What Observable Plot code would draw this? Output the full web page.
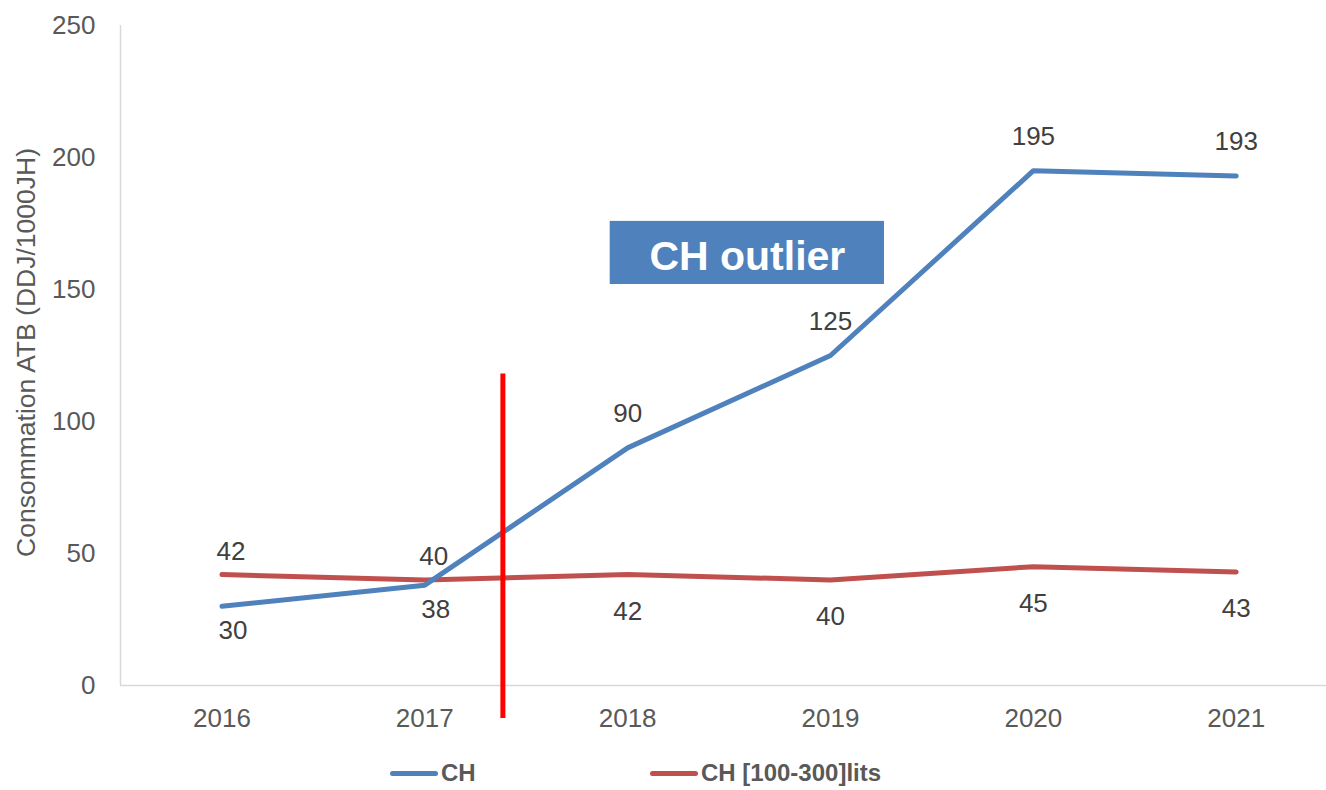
<!DOCTYPE html>
<html>
<head>
<meta charset="utf-8">
<script src="https://cdn.jsdelivr.net/npm/d3@7"></script>
<script src="https://cdn.jsdelivr.net/npm/@observablehq/plot@0.6"></script>
<style>
  html, body { margin: 0; padding: 0; background: #fff; }
  body { width: 1326px; height: 790px; overflow: hidden; font-family: "Liberation Sans", Arial, sans-serif; }
  #legend { position: relative; width: 1326px; height: 45px; }
  .item { position: absolute; top: 14px; display: flex; align-items: center; font-weight: bold; font-size: 24px; color: #595959; }
  .swatch { width: 48px; height: 5px; border-radius: 3px; margin-right: 3px; }
</style>
</head>
<body>
<div id="chart"></div>
<div id="legend"></div>
<script>
const years = [2016, 2017, 2018, 2019, 2020, 2021];
const chValues = [30, 38, 90, 125, 195, 193];
const chSubValues = [42, 40, 42, 40, 45, 43];
const seriesNames = ["CH", "CH [100-300]lits"];
const seriesColors = ["#4f81bd", "#c0504d"];
const yTicks = [0, 50, 100, 150, 200, 250];
const yLabel = "Consommation ATB (DDJ/1000JH)";
const cutoffYear = [2017.385];
const cutoffRange = [-12.5, 118];
const outlierText = "CH outlier";
const outlierBox = {x1: 2017.914, x2: 2019.266, y1: 151.9, y2: 175.8};
const chLabelBelow = new Set([2016, 2017]);
const subLabelAbove = new Set([2016, 2017]);

const ch = years.map((y, i) => ({year: y, value: chValues[i]}));
const sub = years.map((y, i) => ({year: y, value: chSubValues[i]}));

const font = "Liberation Sans, Arial, sans-serif";
const lbl = {x: "year", y: "value", text: d => String(d.value), fontSize: 26, fill: "#404040"};

const chart = Plot.plot({
  width: 1326,
  height: 745,
  marginLeft: 120,
  marginRight: 0,
  marginTop: 25,
  marginBottom: 60,
  style: {fontFamily: font, background: "#fff"},
  x: {domain: [2015.5, 2021.445], axis: null},
  y: {domain: [0, 250], axis: null},
  marks: [
    Plot.ruleX([2015.5], {y1: 0, y2: 250, stroke: "#d9d9d9", strokeWidth: 1.5}),
    Plot.ruleY([0], {stroke: "#d9d9d9", strokeWidth: 1.5}),
    Plot.text(yTicks, {x: 2015.5, y: d => d, text: d => String(d), textAnchor: "end", dx: -25, fontSize: 26, fill: "#595959"}),
    Plot.text(years, {x: d => d, y: 0, text: d => String(d), dy: 33, fontSize: 26, fill: "#595959"}),
    Plot.text([yLabel], {frameAnchor: "left", textAnchor: "middle", text: d => d, rotate: -90, dx: -94, dy: -3, fontSize: 26.5, fill: "#595959"}),
    Plot.line(sub, {x: "year", y: "value", stroke: seriesColors[1], strokeWidth: 5, strokeLinecap: "round"}),
    Plot.line(ch, {x: "year", y: "value", stroke: seriesColors[0], strokeWidth: 5, strokeLinecap: "round"}),
    Plot.ruleX(cutoffYear, {y1: cutoffRange[0], y2: cutoffRange[1], stroke: "#ff0000", strokeWidth: 5}),
    Plot.text(ch.filter(d => chLabelBelow.has(d.year)), {...lbl, dy: 24, dx: 11}),
    Plot.text(ch.filter(d => !chLabelBelow.has(d.year)), {...lbl, dy: -34}),
    Plot.text(sub.filter(d => subLabelAbove.has(d.year)), {...lbl, dy: -23, dx: 9}),
    Plot.text(sub.filter(d => !subLabelAbove.has(d.year)), {...lbl, dy: 37}),
    Plot.rect([outlierBox], {x1: "x1", x2: "x2", y1: "y1", y2: "y2", fill: "#4f81bd"}),
    Plot.text([outlierBox], {x: d => (d.x1 + d.x2) / 2, y: d => (d.y1 + d.y2) / 2, text: () => outlierText, fill: "#fff", fontWeight: "bold", fontSize: 41, dy: 4})
  ]
});
document.getElementById("chart").appendChild(chart);

const legend = document.getElementById("legend");
const lefts = [390, 650];
seriesNames.forEach((name, i) => {
  const item = document.createElement("div");
  item.className = "item";
  item.style.left = lefts[i] + "px";
  const sw = document.createElement("div");
  sw.className = "swatch";
  sw.style.background = seriesColors[i];
  const t = document.createElement("span");
  t.textContent = name;
  item.appendChild(sw);
  item.appendChild(t);
  legend.appendChild(item);
});
</script>
</body>
</html>
